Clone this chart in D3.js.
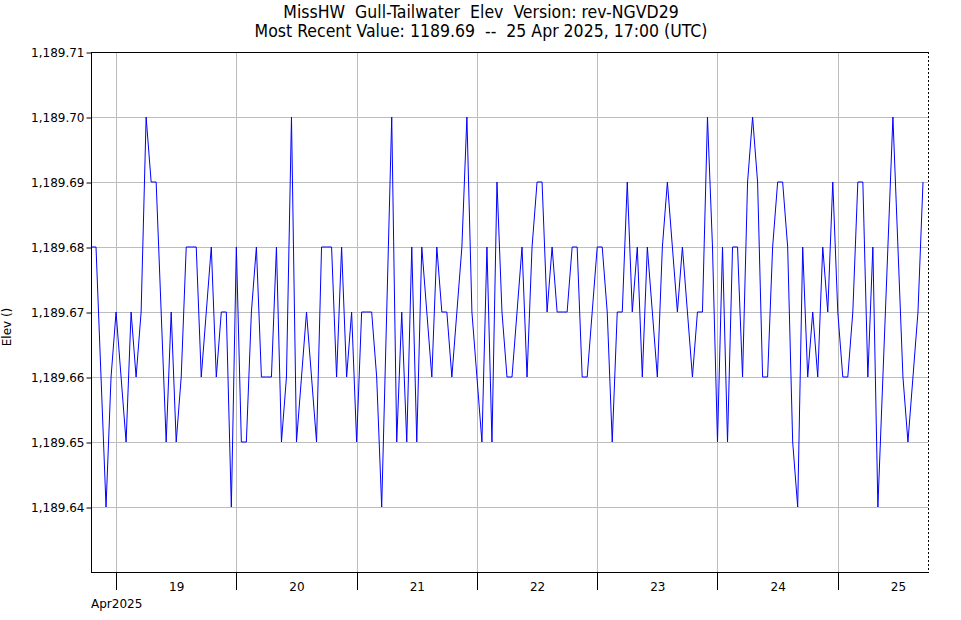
<!DOCTYPE html>
<html><head><meta charset="utf-8">
<script src="https://cdn.jsdelivr.net/npm/d3@7"></script>
<style>
body{margin:0;background:#fff;}
svg{display:block;}
text.title{white-space:pre;}
</style></head>
<body>
<svg id="chart" width="961" height="620"></svg>
<script>
const titleLines = ["MissHW  Gull-Tailwater  Elev  Version: rev-NGVD29",
                    "Most Recent Value: 1189.69  --  25 Apr 2025, 17:00 (UTC)"];
const yLabel = "Elev ()";
const startTime = "2025-04-18T19:00:00Z"; // hourly series start
const domainStart = "2025-04-18T19:00:00Z";
const domainEnd = "2025-04-25T18:00:00Z";
const dayTicks = ["2025-04-19","2025-04-20","2025-04-21","2025-04-22","2025-04-23","2025-04-24","2025-04-25"];
const dayLabels = ["19","20","21","22","23","24","25"];
const monthLabel = "Apr2025";
const yTicks = [1189.64,1189.65,1189.66,1189.67,1189.68,1189.69,1189.70,1189.71];
const yDomain = [1189.63, 1189.71];
const elev = [
1189.68,1189.68,1189.66,1189.64,1189.66,1189.67,1189.66,1189.65,1189.67,1189.66,
1189.67,1189.70,1189.69,1189.69,1189.67,1189.65,1189.67,1189.65,1189.66,1189.68,
1189.68,1189.68,1189.66,1189.67,1189.68,1189.66,1189.67,1189.67,1189.64,1189.68,
1189.65,1189.65,1189.67,1189.68,1189.66,1189.66,1189.66,1189.68,1189.65,1189.66,
1189.70,1189.65,1189.66,1189.67,1189.66,1189.65,1189.68,1189.68,1189.68,1189.66,
1189.68,1189.66,1189.67,1189.65,1189.67,1189.67,1189.67,1189.66,1189.64,1189.67,
1189.70,1189.65,1189.67,1189.65,1189.68,1189.65,1189.68,1189.67,1189.66,1189.68,
1189.67,1189.67,1189.66,1189.67,1189.68,1189.70,1189.67,1189.66,1189.65,1189.68,
1189.65,1189.69,1189.67,1189.66,1189.66,1189.67,1189.68,1189.66,1189.68,1189.69,
1189.69,1189.67,1189.68,1189.67,1189.67,1189.67,1189.68,1189.68,1189.66,1189.66,
1189.67,1189.68,1189.68,1189.67,1189.65,1189.67,1189.67,1189.69,1189.67,1189.68,
1189.66,1189.68,1189.67,1189.66,1189.68,1189.69,1189.68,1189.67,1189.68,1189.67,
1189.66,1189.67,1189.67,1189.70,1189.68,1189.65,1189.68,1189.65,1189.68,1189.68,
1189.66,1189.69,1189.70,1189.69,1189.66,1189.66,1189.68,1189.69,1189.69,1189.68,
1189.65,1189.64,1189.68,1189.66,1189.67,1189.66,1189.68,1189.67,1189.69,1189.67,
1189.66,1189.66,1189.67,1189.69,1189.69,1189.66,1189.68,1189.64,1189.66,1189.68,
1189.70,1189.68,1189.66,1189.65,1189.66,1189.67,1189.69
];

const svg = d3.select("#chart");
const L = 91, R = 928, T = 52, B = 572;
const t0 = new Date(startTime);
const data = elev.map((v,i)=>({t:new Date(t0.getTime()+i*3600e3), v}));

const x = d3.scaleUtc().domain([new Date(domainStart), new Date(domainEnd)]).range([L,R]);
const y = d3.scaleLinear().domain(yDomain).range([B,T]);

// gridlines
const grid = svg.append("g").attr("stroke","#bdbdbd").attr("stroke-width",1).attr("shape-rendering","crispEdges");
grid.selectAll("line.h").data(yTicks.slice(0,-1)).join("line")
  .attr("x1",L).attr("x2",R).attr("y1",d=>Math.round(y(d))+0.5).attr("y2",d=>Math.round(y(d))+0.5);
grid.selectAll("line.v").data(dayTicks).join("line")
  .attr("y1",T).attr("y2",B).attr("x1",d=>Math.round(x(new Date(d+"T00:00:00Z")))+0.5).attr("x2",d=>Math.round(x(new Date(d+"T00:00:00Z")))+0.5);

// line
svg.append("path").datum(data)
  .attr("fill","none").attr("stroke","#0000ff").attr("stroke-width",1)
  .attr("d", d3.line().x(d=>x(d.t)).y(d=>y(d.v)));

// frame
const frame = svg.append("g").attr("stroke","#000").attr("stroke-width",1).attr("shape-rendering","crispEdges");
frame.append("line").attr("x1",L+0.5).attr("x2",L+0.5).attr("y1",T).attr("y2",B+1);
frame.append("line").attr("x1",L).attr("x2",R+1).attr("y1",T+0.5).attr("y2",T+0.5);
frame.append("line").attr("x1",L).attr("x2",R+1).attr("y1",B+0.5).attr("y2",B+0.5);
frame.append("line").attr("x1",R+0.5).attr("x2",R+0.5).attr("y1",T).attr("y2",B).attr("stroke-dasharray","2,2");

// y axis
const yAxis = d3.axisLeft(y).tickValues(yTicks).tickSize(5).tickPadding(2)
  .tickFormat(d=>d3.format(",.2f")(d));
const gy = svg.append("g").attr("transform",`translate(${L+0.5},0.5)`).call(yAxis);
gy.select(".domain").remove();
gy.selectAll("text").attr("font-family","DejaVu Sans").attr("font-size","12px").attr("fill","#000").attr("dy","0.32em");
gy.selectAll("line").attr("stroke","#000");

// x axis: day ticks
const dayDates = dayTicks.map(d=>new Date(d+"T00:00:00Z"));
const xAxis = d3.axisBottom(x).tickValues(dayDates).tickSize(17).tickFormat("");
const gx = svg.append("g").attr("transform",`translate(0,${B+0.5})`).call(xAxis);
gx.select(".domain").remove();
gx.selectAll("line").attr("stroke","#000").attr("shape-rendering","crispEdges");

// day labels at noon
const noonDates = dayTicks.map(d=>new Date(d+"T12:00:00Z"));
const xLab = d3.axisBottom(x).tickValues(noonDates).tickSize(0).tickPadding(10)
  .tickFormat((d,i)=>dayLabels[i]);
const gl = svg.append("g").attr("transform",`translate(0,${B})`).call(xLab);
gl.select(".domain").remove();
gl.selectAll("text").attr("font-family","DejaVu Sans").attr("font-size","12px").attr("fill","#000");

svg.append("text").attr("x",L).attr("y",608).attr("font-family","DejaVu Sans").attr("font-size","12px").text(monthLabel);

// y label
svg.append("text").attr("transform","translate(11,327) rotate(-90)").attr("text-anchor","middle")
  .attr("font-family","DejaVu Sans").attr("font-size","12px").text(yLabel);

// title
svg.selectAll("text.title").data(titleLines).join("text").attr("class","title")
  .attr("x",481).attr("y",(d,i)=>18+i*19).attr("text-anchor","middle")
  .attr("font-family","DejaVu Sans Condensed, DejaVu Sans").attr("font-stretch","condensed").attr("font-size","17.5px").text(d=>d);
</script>
</body></html>
